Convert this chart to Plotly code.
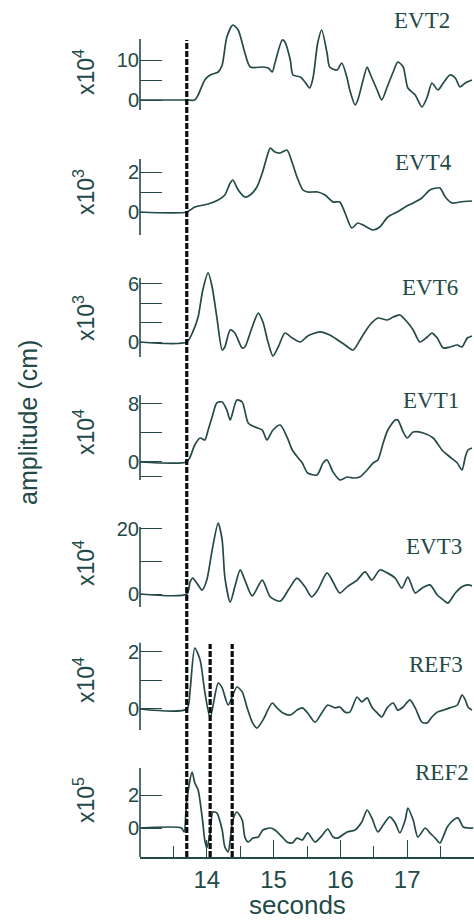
import plotly.graph_objects as go

# ---------------- data (seconds, amplitude in panel units) ----------------
names = ["EVT2", "EVT4", "EVT6", "EVT1", "EVT3", "REF3", "REF2"]
exponents = ["4", "3", "3", "4", "4", "4", "5"]

t_evt2 = [13.0, 13.70, 13.82, 13.87, 13.97, 14.05, 14.17, 14.23, 14.30, 14.39, 14.47, 14.57, 14.65, 14.84,
          14.92, 14.98, 15.02, 15.13, 15.17, 15.25, 15.29, 15.40, 15.47, 15.54, 15.59, 15.66, 15.72, 15.80,
          15.84, 15.95, 16.02, 16.10, 16.14, 16.22, 16.26, 16.34, 16.40, 16.44, 16.55, 16.62, 16.70, 16.79,
          16.86, 16.94, 17.01, 17.12, 17.22, 17.30, 17.37, 17.46, 17.54, 17.64, 17.72, 17.79, 17.87, 17.97]
a_evt2 = [0, 0, 0, 1.25, 5, 6.25, 7, 8.75, 15.75, 18.75, 17.5, 11.75, 8.25, 8.25,
          8, 7, 9.25, 15, 14.5, 10, 6.25, 5.75, 4.5, 3, 5.5, 14.25, 17.5, 11.75,
          8.25, 7.5, 9.25, 5.5, 2.5, -1.25, 0, 5, 8.25, 6.75, 2.5, 0, 3.25, 7,
          9.5, 8.25, 3, 1.25, -1.75, 0.75, 4.25, 2.5, 4.25, 6.25, 5.5, 3.25, 4.25, 5]

t_evt4 = [13.0, 13.70, 13.82, 14.02, 14.17, 14.27, 14.35, 14.39, 14.47, 14.57, 14.65, 14.75, 14.83, 14.90,
          14.95, 15.02, 15.10, 15.20, 15.28, 15.35, 15.44, 15.51, 15.66, 15.77, 15.89, 15.99, 16.07, 16.17,
          16.26, 16.34, 16.49, 16.59, 16.71, 16.85, 16.97, 17.09, 17.22, 17.34, 17.49, 17.57, 17.67, 17.79, 17.97]
a_evt4 = [0, 0, 0.25, 0.4, 0.6, 0.85, 1.45, 1.6, 1.1, 0.75, 0.85, 1.25, 1.95, 2.75,
          3.2, 3.0, 2.95, 3.1, 2.45, 1.75, 1.1, 1.0, 1.0, 0.85, 0.5, 0.5, -0.05, -0.8,
          -0.55, -0.65, -0.9, -0.75, -0.25, 0, 0.25, 0.45, 0.7, 1.1, 1.2, 0.75, 0.45, 0.5, 0.55]

t_evt6 = [13.0, 13.70, 13.79, 13.87, 13.94, 14.02, 14.08, 14.15, 14.23, 14.27, 14.35, 14.42, 14.53, 14.57,
          14.68, 14.77, 14.84, 14.92, 14.99, 15.07, 15.17, 15.28, 15.40, 15.51, 15.69, 15.84, 15.96, 16.07,
          16.19, 16.32, 16.44, 16.56, 16.70, 16.79, 16.89, 17.00, 17.09, 17.19, 17.30, 17.37, 17.45, 17.54,
          17.64, 17.75, 17.82, 17.90, 17.97]
a_evt6 = [0, 0, 1.03, 2.56, 5.33, 7.08, 5.64, 2.56, -0.82, -0.51, 1.23, 0.92, -0.62, -0.51,
          1.54, 2.97, 2.05, -0.10, -1.44, -0.51, 0.92, 0.41, 0, 0.62, 1.03, 0.72, 0.21, -0.31,
          -0.82, 0.51, 1.74, 2.46, 2.26, 2.56, 2.77, 2.05, 1.23, 0, 0.51, 0.92, 0.41, -0.62,
          -0.51, -0.31, -0.51, 0.41, 0.62]

t_evt1 = [13.0, 13.70, 13.75, 13.82, 13.90, 13.97, 14.02, 14.08, 14.15, 14.23, 14.30, 14.35, 14.45, 14.53,
          14.62, 14.72, 14.83, 14.90, 14.99, 15.10, 15.20, 15.28, 15.37, 15.43, 15.51, 15.65, 15.74, 15.80,
          15.89, 15.99, 16.10, 16.19, 16.29, 16.40, 16.49, 16.56, 16.64, 16.71, 16.82, 16.86, 16.94, 17.00,
          17.09, 17.24, 17.39, 17.52, 17.64, 17.75, 17.82, 17.87, 17.91, 17.97]
a_evt1 = [0, 0, 0.69, 2.34, 3.31, 3.03, 4.41, 6.21, 8.14, 8.28, 7.17, 5.79, 8.55, 8.28,
          5.38, 4.83, 4.41, 3.03, 4.41, 5.10, 3.45, 1.66, 0.55, -0.14, -1.52, -1.79, -0.14, 0.28,
          -1.38, -2.48, -2.07, -2.21, -2.07, -1.10, -0.14, 0.28, 2.62, 4.41, 5.79, 5.79, 4.14, 3.31,
          4.14, 4.0, 3.31, 1.66, 0.69, -0.14, -1.10, 0.69, 1.66, 1.93]

t_evt3 = [13.0, 13.70, 13.75, 13.79, 13.85, 13.93, 14.00, 14.08, 14.17, 14.23, 14.27, 14.35, 14.42, 14.50,
          14.57, 14.68, 14.83, 14.95, 15.10, 15.22, 15.35, 15.47, 15.57, 15.66, 15.80, 15.89, 15.99, 16.10,
          16.25, 16.37, 16.47, 16.59, 16.70, 16.82, 16.92, 17.01, 17.12, 17.22, 17.34, 17.45, 17.54, 17.61,
          17.72, 17.82, 17.91, 17.97]
a_evt3 = [0, 0, 3.7, 4.9, 3.4, 1.2, 4.3, 13.5, 21.8, 16.6, 5.2, -2.5, 2.2, 7.4,
          4.3, -0.6, 4.3, -0.9, -2.2, 1.2, 4.9, 2.2, -0.9, 1.2, 6.5, 3.7, 0.3, 2.2,
          4.3, 6.8, 4.3, 7.4, 6.5, 4.9, 1.8, 5.2, 0.3, 1.8, 2.8, -0.3, -1.8, -2.8,
          0.3, 2.2, 2.8, 2.5]

t_ref3 = [13.0, 13.70, 13.75, 13.82, 13.90, 13.97, 14.05, 14.17, 14.23, 14.32, 14.45, 14.53, 14.60, 14.68,
          14.75, 14.84, 14.98, 15.05, 15.14, 15.25, 15.35, 15.43, 15.51, 15.62, 15.72, 15.81, 15.92, 15.99,
          16.07, 16.14, 16.25, 16.32, 16.40, 16.47, 16.55, 16.62, 16.70, 16.79, 16.86, 16.94, 17.04, 17.12,
          17.22, 17.30, 17.37, 17.45, 17.54, 17.64, 17.75, 17.82, 17.87, 17.91, 17.97]
a_ref3 = [0, 0, 0.67, 2.14, 1.72, 0.60, -0.30, 0.91, 0.74, 0.14, 0.77, 0.60, 0.07, -0.46,
          -0.67, -0.39, 0.21, 0.04, -0.14, -0.21, -0.04, 0.04, -0.14, -0.46, -0.14, 0.14, 0.04, 0.07,
          -0.11, -0.11, 0.42, 0.25, 0.39, 0.07, -0.14, -0.28, 0.04, 0.21, -0.04, 0.07, 0.32, 0.04,
          -0.46, -0.49, -0.28, -0.11, -0.04, 0.04, 0.14, 0.49, 0.32, 0.07, -0.04]

t_ref2 = [13.0, 13.62, 13.66, 13.70, 13.78, 13.82, 13.87, 13.93, 13.97, 14.00, 14.05, 14.09, 14.15, 14.23,
          14.27, 14.32, 14.35, 14.39, 14.45, 14.53, 14.57, 14.62, 14.69, 14.77, 14.84, 14.95, 15.02, 15.13,
          15.20, 15.28, 15.35, 15.43, 15.51, 15.62, 15.72, 15.81, 15.89, 15.96, 16.10, 16.22, 16.32, 16.40,
          16.47, 16.56, 16.64, 16.74, 16.82, 16.89, 16.97, 17.01, 17.09, 17.16, 17.27, 17.34, 17.42, 17.49,
          17.60, 17.69, 17.76, 17.84, 17.91, 17.99]
a_ref2 = [0, 0, -0.24, 1.70, 3.39, 2.73, 2.30, 0.67, -0.73, -1.21, -0.30, 0.97, 0.91, -0.12,
          -1.15, -1.45, -0.73, 0.48, 0.97, 0.48, -0.55, -0.85, -0.61, -0.55, -0.12, 0, -0.12, -0.55,
          -0.85, -0.91, -0.61, -0.73, -0.30, -0.85, -0.48, -0.06, -0.55, -0.61, -0.24, -0.12, 0.36, 1.09,
          0.61, -0.24, 0.18, 0.67, 0.30, -0.30, 0.48, 1.21, 0.48, -0.55, 0, -0.30, -0.61, -0.91,
          0.06, 0.48, 0.61, 0.06, 0, 0]

times = [t_evt2, t_evt4, t_evt6, t_evt1, t_evt3, t_ref3, t_ref2]
amps = [a_evt2, a_evt4, a_evt6, a_evt1, a_evt3, a_ref3, a_ref2]

ytick_vals = [[0, 5, 10], [0, 1, 2], [0, 2, 4, 6], [-2, 0, 4, 8], [0, 10, 20], [0, 1, 2], [0, 2]]
ytick_text = [["0", "", "10"], ["0", "", "2"], ["0", "", "", "6"], ["", "0", "", "8"],
              ["0", "", "20"], ["0", "", "2"], ["0", "2"]]

x_ticks = [14, 15, 16, 17]
x_minor = [13.5, 14.5, 15.5, 16.5, 17.5]
onset_main = 13.70
ref_picks = [14.05, 14.38]

# ---------------- layout constants ----------------
W, H = 474, 921
ML, MB = 140, 64
PW, PH = W - ML, H - MB

INK = "#234a48"
SANS = "Liberation Sans, Arial, sans-serif"
SERIF = "Liberation Serif, Times New Roman, serif"

# per panel: y range, pixel extent (top, bottom), axis-line span, name label pos, exponent label y
yranges = [(-3, 20.5), (-1.25, 3.35), (-1.846, 7.59), (-2.76, 9.93), (-4.92, 23.38), (-0.842, 2.49), (-1.758, 4.0)]
pix_ext = [(18, 112), (145, 237), (268, 360), (390, 482), (518, 610), (638, 733), (762, 857)]
axis_span = [(-2.5, 15.25), (-1.15, 2.65), (-1.54, 6.56), (-2.48, 9.24), (-4.0, 20.6), (-0.74, 2.32), (-1.758, 3.64)]
name_pos = [(422, 21), (423, 163), (430, 288), (431, 400), (434, 546), (436, 664), (442, 772)]
exp_y = [72, 192, 318, 432, 563, 680, 800]


def px2paper(x, y):
    return (x - ML) / PW, (PH - y) / PH


fig = go.Figure()
layout = dict(
    width=W, height=H,
    margin=dict(l=ML, r=0, t=0, b=MB, pad=0),
    paper_bgcolor="white", plot_bgcolor="rgba(0,0,0,0)",
    showlegend=False,
    xaxis=dict(
        domain=[0, 1], range=[13, 18], anchor="y7",
        showline=True, linecolor=INK, linewidth=1.6,
        ticks="inside", ticklen=17, tickwidth=1.4, tickcolor=INK,
        tickmode="array", tickvals=x_ticks, ticktext=[str(v) for v in x_ticks],
        tickfont=dict(family=SANS, size=24, color=INK),
        minor=dict(tickmode="array", tickvals=x_minor, ticks="inside", ticklen=11,
                   tickwidth=1.4, tickcolor=INK, showgrid=False),
        showgrid=False, zeroline=False, fixedrange=True,
    ),
)

shapes = []
annotations = []
for i in range(7):
    k = i + 1
    yname = "yaxis" if k == 1 else f"yaxis{k}"
    top, bot = pix_ext[i]
    layout[yname] = dict(
        domain=[(PH - bot) / PH, (PH - top) / PH],
        range=list(yranges[i]), anchor="x",
        showline=False, showgrid=False, zeroline=False,
        ticks="inside", ticklen=22, tickwidth=1.4, tickcolor=INK,
        tickmode="array", tickvals=ytick_vals[i], ticktext=ytick_text[i],
        tickfont=dict(family=SANS, size=20, color=INK),
        fixedrange=True,
    )
    fig.add_trace(go.Scatter(
        x=times[i], y=amps[i], mode="lines",
        line=dict(color=INK, width=1.7, shape="spline", smoothing=0.7),
        xaxis="x", yaxis="y" if k == 1 else f"y{k}",
        hoverinfo="skip",
    ))
    # vertical axis line
    shapes.append(dict(type="line", xref="paper", x0=0, x1=0,
                       yref="y" if k == 1 else f"y{k}",
                       y0=axis_span[i][0], y1=axis_span[i][1],
                       line=dict(color=INK, width=1.6)))
    # trace name
    nx, ny = px2paper(*name_pos[i])
    annotations.append(dict(text=names[i], x=nx, y=ny, xref="paper", yref="paper",
                            showarrow=False, xanchor="center", yanchor="middle",
                            font=dict(family=SERIF, size=23, color=INK)))
    # scale factor
    ex, ey = px2paper(84, exp_y[i])
    annotations.append(dict(text=f"x10<sup>{exponents[i]}</sup>", x=ex, y=ey,
                            xref="paper", yref="paper", showarrow=False, textangle=-90,
                            xanchor="center", yanchor="middle",
                            font=dict(family=SANS, size=23, color=INK)))

# dashed onset / pick lines
y_top_main = px2paper(0, 40)[1]
y_top_ref = px2paper(0, 644)[1]
shapes.append(dict(type="line", xref="x", x0=onset_main, x1=onset_main, yref="paper",
                   y0=0, y1=y_top_main, line=dict(color="#0a0a0a", width=3.2, dash="6px,2px")))
for p in ref_picks:
    shapes.append(dict(type="line", xref="x", x0=p, x1=p, yref="paper",
                       y0=0, y1=y_top_ref, line=dict(color="#0a0a0a", width=3.2, dash="6px,2px")))

# axis titles
ax, ay = px2paper(28, 423)
annotations.append(dict(text="amplitude (cm)", x=ax, y=ay, xref="paper", yref="paper",
                        showarrow=False, textangle=-90, xanchor="center", yanchor="middle",
                        font=dict(family=SANS, size=25, color=INK)))
sx, sy = px2paper(297, 905)
annotations.append(dict(text="seconds", x=sx, y=sy, xref="paper", yref="paper",
                        showarrow=False, xanchor="center", yanchor="middle",
                        font=dict(family=SANS, size=26, color=INK)))

layout["shapes"] = shapes
layout["annotations"] = annotations
fig.update_layout(**layout)
fig.write_html("out.html", config={"displayModeBar": False})
